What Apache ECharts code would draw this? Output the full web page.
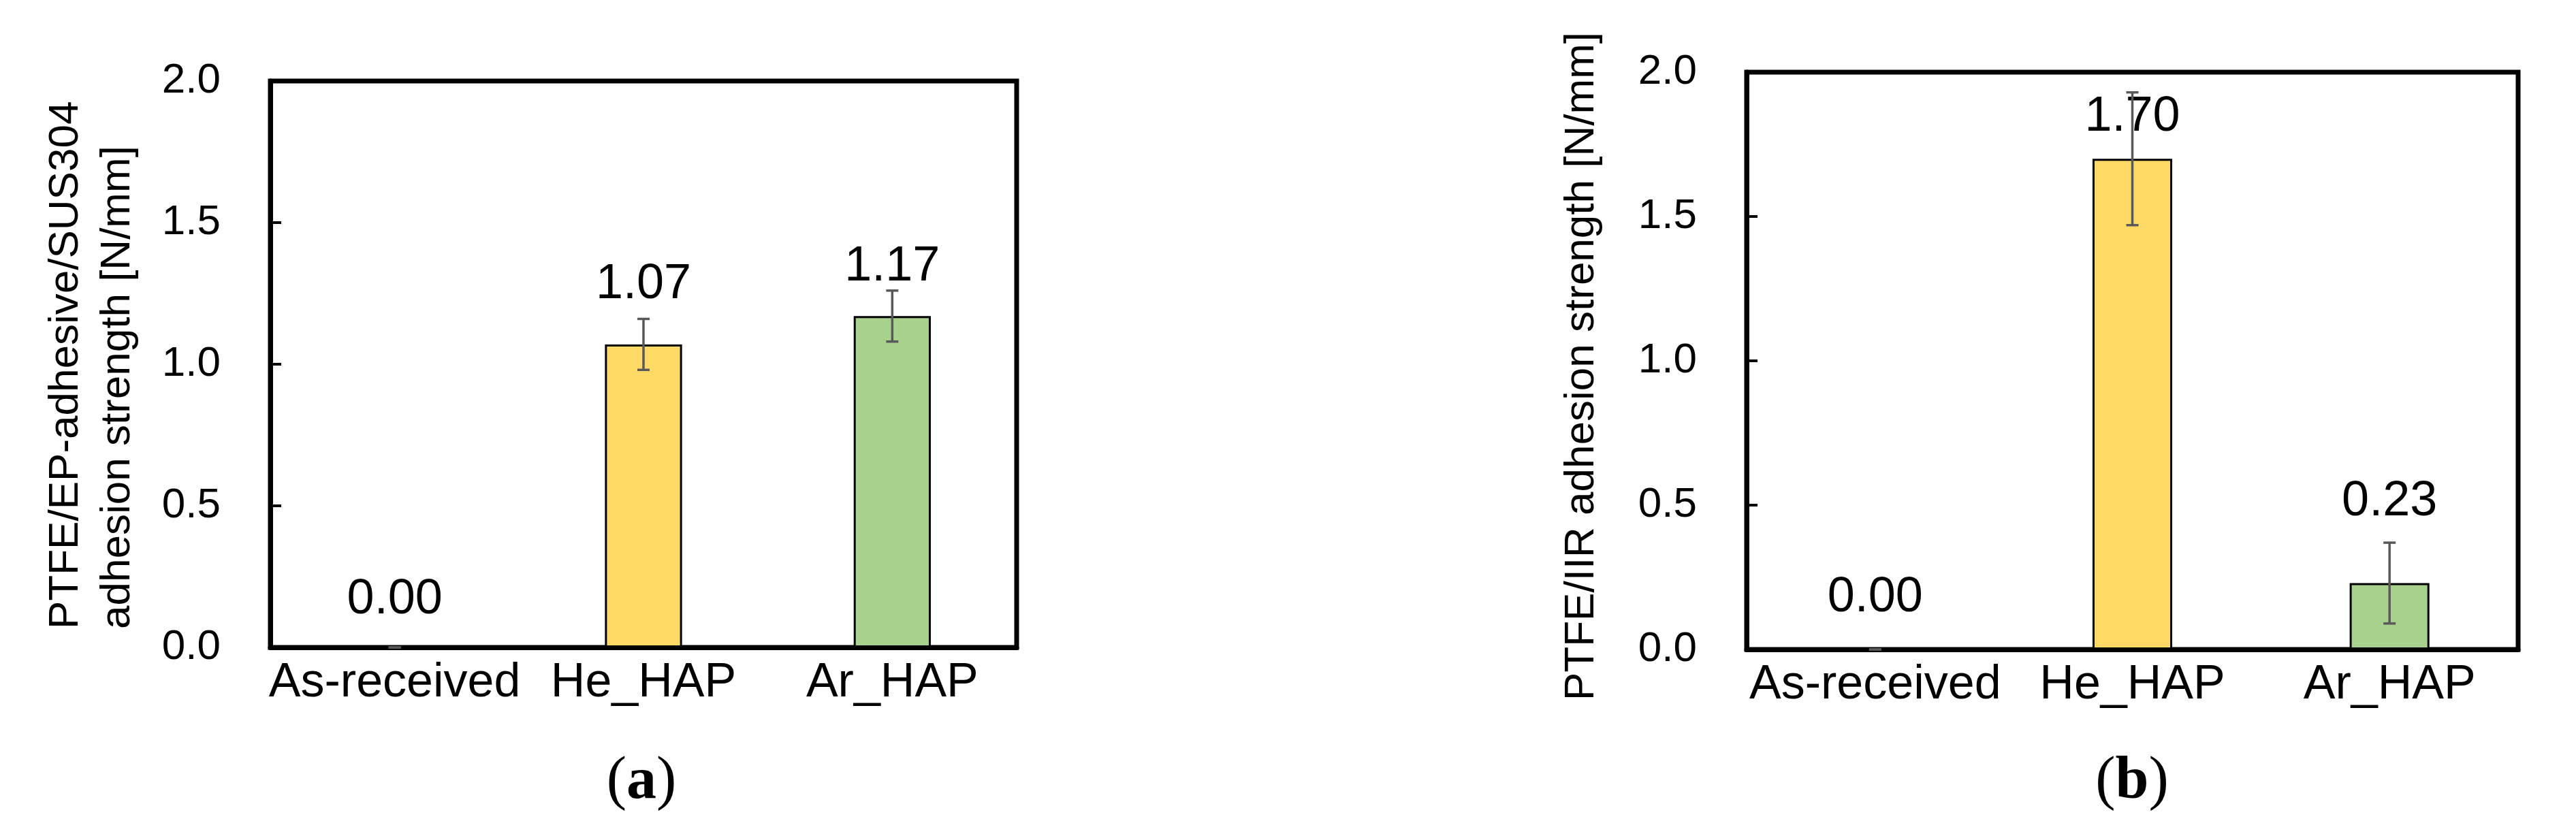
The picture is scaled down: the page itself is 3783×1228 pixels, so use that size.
<!DOCTYPE html>
<html>
<head>
<meta charset="utf-8">
<script src="https://cdn.jsdelivr.net/npm/echarts@6/dist/echarts.min.js"></script>
<style>
  html, body { margin: 0; padding: 0; background: #fff; }
  #chart { width: 3783px; height: 1228px; }
</style>
</head>
<body>
<div id="chart"></div>
<script>
const categories = ['As-received', 'He_HAP', 'Ar_HAP'];

// (a) PTFE/EP-adhesive/SUS304
const strengthA = [0.00, 1.07, 1.17];
const errorA = [0.00, 0.09, 0.09];

// (b) PTFE/IIR
const strengthB = [0.00, 1.70, 0.23];
const errorB = [0.00, 0.23, 0.14];

const yMin = 0, yMax = 2.0, yStep = 0.5;

const barColors = ['#d9d9d9', '#ffd966', '#a9d18e'];
const fontSans = '"Liberation Sans", Arial, sans-serif';
const fontSerif = '"Liberation Serif", "Times New Roman", serif';

// gap between bar top and its value label (labels were moved by hand in the original)
const labelGap = [[32, 52, 36], [38, 25, 83]];

const chart = echarts.init(document.getElementById('chart'), null, { renderer: 'canvas' });

function barSeries(idx, values) {
  return {
    type: 'bar',
    xAxisIndex: idx,
    yAxisIndex: idx,
    barWidth: '31%',
    data: values.map((v, k) => ({
      value: v,
      itemStyle: { color: barColors[k] },
      label: { distance: labelGap[idx][k] }
    })),
    itemStyle: { borderColor: '#000', borderWidth: 3 },
    label: {
      show: true,
      position: 'top',
      fontSize: 72,
      fontFamily: fontSans,
      color: '#000',
      formatter: p => p.value.toFixed(2)
    },
    z: 2
  };
}

function errorSeries(idx, values, errors) {
  return {
    type: 'custom',
    xAxisIndex: idx,
    yAxisIndex: idx,
    data: values.map((v, k) => [k, v, errors[k]]),
    renderItem: function (params, api) {
      const k = api.value(0), v = api.value(1), e = api.value(2);
      const hi = api.coord([k, v + e]);
      const lo = api.coord([k, v - e]);
      const x = hi[0], hw = 9;
      const style = { stroke: '#595959', lineWidth: 3.5 };
      return {
        type: 'group',
        children: [
          { type: 'line', shape: { x1: x, y1: hi[1], x2: x, y2: lo[1] }, style },
          { type: 'line', shape: { x1: x - hw, y1: hi[1], x2: x + hw, y2: hi[1] }, style },
          { type: 'line', shape: { x1: x - hw, y1: lo[1], x2: x + hw, y2: lo[1] }, style }
        ]
      };
    },
    z: 5
  };
}

const gridBox = { show: true, borderColor: '#000', borderWidth: 7, backgroundColor: 'transparent' };

const option = {
  animation: false,
  backgroundColor: '#fff',
  grid: [
    Object.assign({ left: 397, top: 119, width: 1096, height: 832 }, gridBox),
    Object.assign({ left: 2565, top: 106, width: 1133, height: 848 }, gridBox)
  ],
  xAxis: [0, 1].map(i => ({
    type: 'category',
    gridIndex: i,
    data: categories,
    axisLine: { show: true, lineStyle: { color: '#000', width: 7 } },
    axisTick: { show: false },
    axisLabel: { interval: 0, fontSize: 70, fontFamily: fontSans, color: '#000', margin: 18 }
  })),
  yAxis: [0, 1].map(i => ({
    type: 'value',
    gridIndex: i,
    min: yMin,
    max: yMax,
    interval: yStep,
    splitLine: { show: false },
    axisLine: { show: true, lineStyle: { color: '#000', width: 7 } },
    axisTick: { show: true, inside: true, length: 16, lineStyle: { color: '#000', width: 4 } },
    axisLabel: {
      fontSize: 62,
      fontFamily: fontSans,
      color: '#000',
      margin: 73,
      padding: [0, 0, 15, 0],
      formatter: v => v.toFixed(1)
    }
  })),
  graphic: [
    {
      type: 'text',
      x: 135, y: 924,
      rotation: Math.PI / 2,
      style: {
        text: 'PTFE/EP-adhesive/SUS304\nadhesion strength [N/mm]',
        fontSize: 62, fontFamily: fontSans, lineHeight: 76, fill: '#000',
        align: 'left', verticalAlign: 'middle'
      }
    },
    {
      type: 'text',
      x: 2323, y: 538,
      rotation: Math.PI / 2,
      style: {
        text: 'PTFE/IIR adhesion strength [N/mm]',
        fontSize: 62, fontFamily: fontSans, fill: '#000',
        align: 'center', verticalAlign: 'middle'
      }
    },
    {
      type: 'text',
      x: 942, y: 1149,
      style: {
        text: '{p|(}{b|a}{p|)}',
        align: 'center', verticalAlign: 'middle',
        rich: {
          p: { fontSize: 88, fontFamily: fontSerif, fill: '#000' },
          b: { fontSize: 88, fontFamily: fontSerif, fontWeight: 'bold', fill: '#000' }
        }
      }
    },
    {
      type: 'text',
      x: 3131, y: 1149,
      style: {
        text: '{p|(}{b|b}{p|)}',
        align: 'center', verticalAlign: 'middle',
        rich: {
          p: { fontSize: 88, fontFamily: fontSerif, fill: '#000' },
          b: { fontSize: 88, fontFamily: fontSerif, fontWeight: 'bold', fill: '#000' }
        }
      }
    }
  ],
  series: [
    barSeries(0, strengthA),
    errorSeries(0, strengthA, errorA),
    barSeries(1, strengthB),
    errorSeries(1, strengthB, errorB)
  ]
};

chart.setOption(option);
</script>
</body>
</html>
